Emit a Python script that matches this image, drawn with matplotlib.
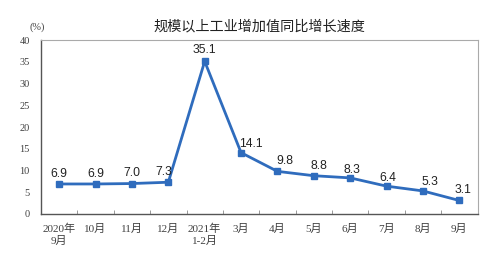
import numpy as np
import matplotlib.pyplot as plt

plt.rcParams['font.family'] = ['Liberation Serif', 'Noto Sans CJK SC', 'DejaVu Sans']

months = ['2020年\n9月', '10月', '11月', '12月', '2021年\n1-2月', '3月',
          '4月', '5月', '6月', '7月', '8月', '9月']
growth = [6.9, 6.9, 7.0, 7.3, 35.1, 14.1, 9.8, 8.8, 8.3, 6.4, 5.3, 3.1]
yticks = [0, 5, 10, 15, 20, 25, 30, 35, 40]

# small label nudges (points) so text clears the line
label_dx = [0, 0, 0, -3, 0, 7, 5, 4, 1, 1, 5, 3]
label_dy = [7.5, 7.5, 7.5, 7.5, 8, 6, 7.5, 7, 6, 6, 6.5, 7.5]

blue = '#2f6cbd'
txt = '#404040'

fig = plt.figure(figsize=(5.0, 2.6), dpi=100)
ax = fig.add_axes([0.082, 0.177, 0.873, 0.669])

x = np.arange(len(months))
ax.plot(x, growth, color=blue, lw=2, marker='s', ms=4, zorder=3)

for i, v in enumerate(growth):
    ax.annotate(f'{v:.1f}', (x[i], v), xytext=(label_dx[i], label_dy[i]),
                textcoords='offset points', ha='center', va='center',
                fontsize=8.7, family=['Liberation Sans'], color='#222222')

ax.set_xlim(-0.5, len(months) - 0.5)
ax.set_ylim(0, 40)
ax.set_yticks(yticks)
ax.set_xticks(x)
ax.set_xticklabels(months)
ax.set_xticks(x[:-1] + 0.5, minor=True)
ax.tick_params(axis='x', which='major', length=0, pad=7, labelsize=8, labelcolor=txt)
ax.tick_params(axis='x', which='minor', direction='in', length=3, color='#888888')
ax.tick_params(axis='y', length=0, pad=8, labelsize=7.5, labelcolor=txt)

for s in ['left', 'bottom']:
    ax.spines[s].set_color('#555555')
    ax.spines[s].set_linewidth(1)
for s in ['top', 'right']:
    ax.spines[s].set_color('#aaaaaa')
    ax.spines[s].set_linewidth(0.8)

fig.text(0.518, 0.897, '规模以上工业增加值同比增长速度', ha='center', va='center',
         fontsize=10.2, family=['Noto Sans CJK SC'], color='#222222')
fig.text(0.074, 0.895, '(%)', ha='center', va='center', fontsize=7.5, color=txt)

fig.savefig('out.png', dpi=100)
